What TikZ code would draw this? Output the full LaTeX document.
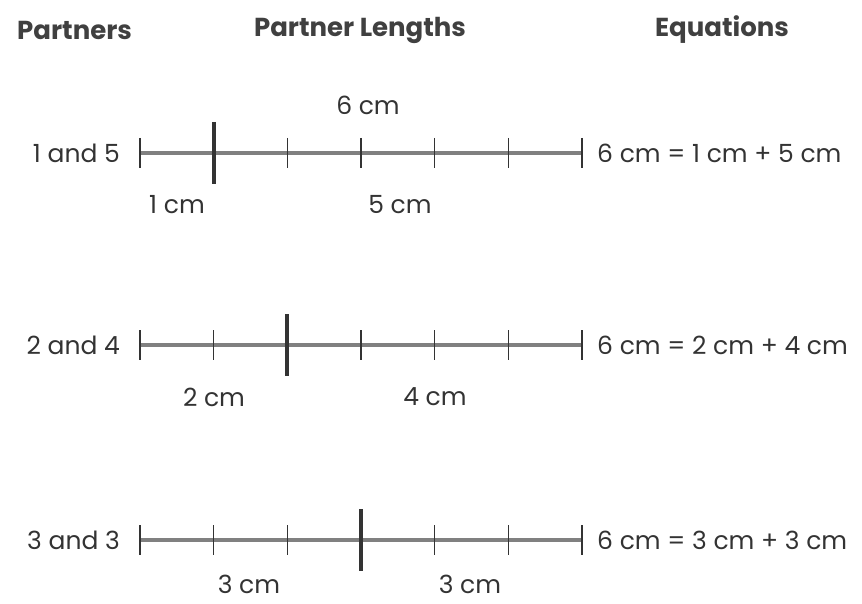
\documentclass[tikz,border=0pt]{standalone}
\usepackage{fontspec}
\setmainfont{Poppins}

\tikzstyle{bar} = [draw=black!50, line width=4pt]
\tikzstyle{tick} = [draw=black!80, line width=1.6pt]
\tikzstyle{split} = [draw=black!80, line width=4pt]
\tikzstyle{lbl} = [text=black!80, inner sep=0pt, font=\fontsize{25}{25}\selectfont]
\tikzstyle{head} = [text=black!75, inner sep=0pt, font=\fontsize{26}{26}\selectfont\bfseries]

\begin{document}
\begin{tikzpicture}[x=1pt, y=-1pt]
\useasboundingbox (0,0) rectangle (862,604);
%headers
\node[head, anchor=west] (hpart) at (17,30) {Partners};
\node[head] (hlen) at (360,30) {Partner Lengths};
\node[head] (heq) at (722,30) {Equations};
%begin row1
\coordinate (r1s) at (140,153);
\coordinate (r1e) at (582,153);
\draw[bar] (r1s) -- (r1e);
\foreach \k in {0,...,6}
    \draw[tick] (140+73.67*\k,138) -- (140+73.67*\k,168);
\coordinate (r1a) at (213.7,122);
\coordinate (r1b) at (213.7,184);
\draw[split] (r1a) -- (r1b);
\node[lbl, anchor=east] (p1) at (120,153) {1 and 5};
\node[lbl] (w1) at (368,105) {6 cm};
\node[lbl] (a1) at (177,205) {1 cm};
\node[lbl] (b1) at (400,205) {5 cm};
\node[lbl, anchor=west] (e1) at (597,153) {6 cm = 1 cm + 5 cm};
%end row1
%begin row2
\coordinate (r2s) at (140,345);
\coordinate (r2e) at (582,345);
\draw[bar] (r2s) -- (r2e);
\foreach \k in {0,...,6}
    \draw[tick] (140+73.67*\k,330) -- (140+73.67*\k,360);
\coordinate (r2a) at (287.3,314);
\coordinate (r2b) at (287.3,376);
\draw[split] (r2a) -- (r2b);
\node[lbl, anchor=east] (p2) at (120,345) {2 and 4};
\node[lbl] (a2) at (214,397) {2 cm};
\node[lbl] (b2) at (435,397) {4 cm};
\node[lbl, anchor=west] (e2) at (597,345) {6 cm = 2 cm + 4 cm};
%end row2
%begin row3
\coordinate (r3s) at (140,540);
\coordinate (r3e) at (582,540);
\draw[bar] (r3s) -- (r3e);
\foreach \k in {0,...,6}
    \draw[tick] (140+73.67*\k,525) -- (140+73.67*\k,555);
\coordinate (r3a) at (361,509);
\coordinate (r3b) at (361,571);
\draw[split] (r3a) -- (r3b);
\node[lbl, anchor=east] (p3) at (120,540) {3 and 3};
\node[lbl] (a3) at (249,584) {3 cm};
\node[lbl] (b3) at (470,584) {3 cm};
\node[lbl, anchor=west] (e3) at (597,540) {6 cm = 3 cm + 3 cm};
%end row3
\end{tikzpicture}
\end{document}
